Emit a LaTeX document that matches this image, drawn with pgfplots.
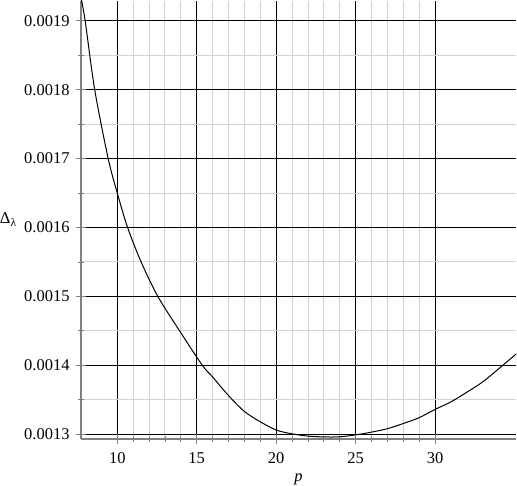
\documentclass[border=0pt]{standalone}
\usepackage{fontspec}
\setmainfont{Liberation Serif}
\usepackage{pgfplots}
\pgfplotsset{compat=1.18}
\begin{document}
\fontsize{16.5pt}{19pt}\selectfont
\begin{tikzpicture}
\begin{axis}[
  scale only axis,
  width=436pt, height=438.5pt,
  xmin=7.7, xmax=35.1,
  ymin=0.0012933, ymax=0.001929,
  axis lines=left,
  axis line style={-, draw=gray, line width=1.6pt},
  xtick={10,15,20,25,30},
  ytick={0.0013,0.0014,0.0015,0.0016,0.0017,0.0018,0.0019},
  minor x tick num=4,
  minor y tick num=1,
  tick align=center,
  major tick length=10pt,
  minor tick length=6pt,
  tick style={draw=gray, line width=0.8pt},
  grid=both,
  major grid style={black, line width=0.8pt},
  minor grid style={gray!35, line width=0.9pt},
  scaled y ticks=false,
  yticklabel style={/pgf/number format/.cd, fixed, fixed zerofill, precision=4, /tikz/.cd, inner sep=0pt, xshift=-6pt},
  xticklabel style={inner sep=0pt, yshift=-9pt},
  /pgf/number format/assume math mode=true,
  xlabel={\textit{p}},
  xlabel style={at={(axis description cs:0.5,0)}, anchor=north, yshift=-35pt, inner sep=0pt},
  ylabel={Δ\textsubscript{λ}},
  ylabel style={rotate=-90, at={(axis description cs:0,0.5)}, anchor=west, xshift=-81pt, inner sep=0pt},
  clip=true,
]
\addplot[black, line width=1pt, smooth, tension=0.5] coordinates {
(7.72,0.001933)
(7.98,0.00190)
(8.58,0.00180)
(9.43,0.00170)
(10.0,0.00165)
(10.65,0.00160)
(11.5,0.00155)
(12.55,0.00150)
(13.92,0.00145)
(15.35,0.00140)
(16.0,0.001383)
(17.0,0.001356)
(18.0,0.001333)
(19.0,0.001318)
(20.0,0.001306)
(21.0,0.0013005)
(22.0,0.0012972)
(23.0,0.001296)
(24.0,0.0012962)
(25.0,0.001299)
(26.0,0.001303)
(27.0,0.001308)
(28.0,0.0013155)
(29.0,0.001324)
(30.0,0.001336)
(31.0,0.001347)
(32.0,0.001361)
(33.0,0.001376)
(34.0,0.001395)
(35.0,0.0014145)
(35.1,0.0014165)
};
\end{axis}
\end{tikzpicture}
\end{document}
